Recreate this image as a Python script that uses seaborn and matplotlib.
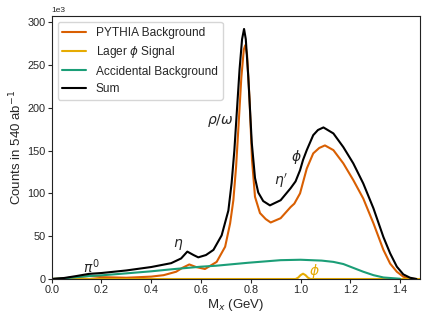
"""Invariant-mass spectrum: PYTHIA background, phi signal, accidentals and their sum."""

import matplotlib

matplotlib.use("Agg")
import matplotlib.pyplot as plt
import pandas as pd
import seaborn as sns

# values (counts in units of 1e3)
sum_mass = [0.00, 0.05, 0.10, 0.15, 0.20, 0.30, 0.40, 0.48, 0.52, 0.545, 0.57, 0.589,
            0.62, 0.65, 0.683, 0.71, 0.723, 0.734, 0.745, 0.755, 0.765, 0.773, 0.78,
            0.79, 0.804, 0.817, 0.83, 0.85, 0.877, 0.92, 0.96, 0.98, 0.998, 1.01,
            1.025, 1.051, 1.07, 1.092, 1.132, 1.172, 1.212, 1.252, 1.293, 1.333,
            1.36, 1.387, 1.413, 1.44, 1.466]
sum_counts = [0, 1.2, 3.5, 6, 7, 10, 14, 18.5, 24, 32, 28, 25.3,
              28, 34, 51, 80, 112, 150, 200, 245, 280, 292, 280,
              236, 159, 118, 101, 91, 86, 92, 106, 114, 127, 139,
              150.5, 168, 174, 177, 170, 154, 135, 111.6, 82.5, 49,
              30, 14.4, 5.4, 1.5, 0]

pythia_mass = [0.00, 0.05, 0.10, 0.15, 0.20, 0.30, 0.40, 0.45, 0.50, 0.525, 0.553,
               0.58, 0.616, 0.663, 0.697, 0.717, 0.73, 0.741, 0.752, 0.762, 0.772,
               0.778, 0.785, 0.795, 0.805, 0.817, 0.837, 0.86, 0.88, 0.92, 0.96,
               0.975, 0.998, 1.025, 1.051, 1.075, 1.098, 1.132, 1.172, 1.212, 1.252,
               1.293, 1.333, 1.36, 1.387, 1.413, 1.44, 1.466]
pythia_counts = [0, 0.8, 2, 3.5, 2.2, 1.5, 2.8, 4.5, 8.5, 13, 17, 14,
                 11.7, 20, 37.7, 65, 92, 131, 185, 235, 268,
                 273, 262, 210, 139, 96, 77, 70, 66, 71, 84,
                 88, 100, 129, 146.7, 153, 156, 150.5, 135, 115.5, 94,
                 65, 34, 18, 8.5, 2.7, 0.5, 0]

accidental_mass = [0.00, 0.05, 0.10, 0.15, 0.20, 0.30, 0.40, 0.48, 0.60, 0.66, 0.79,
                   0.92, 1.00, 1.085, 1.132, 1.172, 1.212, 1.252, 1.293, 1.333, 1.40]
accidental_counts = [0, 0.8, 2.2, 3.5, 4.3, 6.6, 9, 11.3, 14.4, 15.5, 19,
                     22, 22.5, 21.5, 20, 17.5, 13, 8.5, 4.5, 1.8, 0.3]

signal_mass = [0.00, 0.98, 0.99, 1.00, 1.01, 1.02, 1.03, 1.04, 1.48]
signal_counts = [0, 0, 1.5, 4.5, 6.2, 4.5, 1.5, 0, 0]

series_names = ["PYTHIA Background", r"Lager $\phi$ Signal", "Accidental Background", "Sum"]
series_colors = ["#d95f02", "#e6ab02", "#1b9e77", "black"]


def to_frame(mass, counts):
    return pd.DataFrame({"mass": mass, "counts": [c * 1e3 for c in counts]})


def main() -> None:
    sns.set_style("ticks")
    plt.rcParams["font.family"] = ["Liberation Sans", "DejaVu Sans"]
    plt.rcParams["mathtext.fontset"] = "dejavusans"

    fig = plt.figure(figsize=(4.29, 3.22), dpi=100)
    ax = fig.add_axes([0.1205, 0.1335, 0.8585, 0.8165])

    frames = [
        to_frame(pythia_mass, pythia_counts),
        to_frame(signal_mass, signal_counts),
        to_frame(accidental_mass, accidental_counts),
        to_frame(sum_mass, sum_counts),
    ]
    for frame, name, color in zip(frames, series_names, series_colors):
        sns.lineplot(data=frame, x="mass", y="counts", color=color, lw=1.5,
                     label=name, ax=ax, sort=False)

    ax.set_xlim(0, 1.48)
    ax.set_ylim(0, 307e3)
    ax.set_xticks([0.0, 0.2, 0.4, 0.6, 0.8, 1.0, 1.2, 1.4])
    ax.ticklabel_format(axis="y", style="sci", scilimits=(3, 3))
    ax.yaxis.get_offset_text().set_fontsize(6)
    for spine in ax.spines.values():
        spine.set_color("#222222")
    ax.tick_params(labelsize=7.8, length=3, pad=1.5)
    ax.set_xlabel(r"M$_x$ (GeV)", fontsize=9.5, labelpad=1)
    ax.set_ylabel(r"Counts in 540 ab$^{-1}$", fontsize=9.5, labelpad=2)

    # resonance labels
    ax.text(0.16, 14e3, r"$\pi^0$", fontsize=10, ha="center", va="center")
    ax.text(0.51, 40e3, r"$\eta$", fontsize=10, ha="center", va="center")
    ax.text(0.677, 185e3, r"$\rho/\omega$", fontsize=10, ha="center", va="center")
    ax.text(0.92, 114e3, r"$\eta'$", fontsize=10, ha="center", va="center")
    ax.text(0.983, 143e3, r"$\phi$", fontsize=10, ha="center", va="center")
    ax.text(1.055, 9e3, r"$\phi$", fontsize=10, ha="center", va="center",
            color="#e6ab02")

    ax.legend(loc="upper left", fontsize=8.6, frameon=True, borderaxespad=0.5,
              labelspacing=0.45)

    fig.savefig("out.png", dpi=100)
    plt.close(fig)


if __name__ == "__main__":
    main()
